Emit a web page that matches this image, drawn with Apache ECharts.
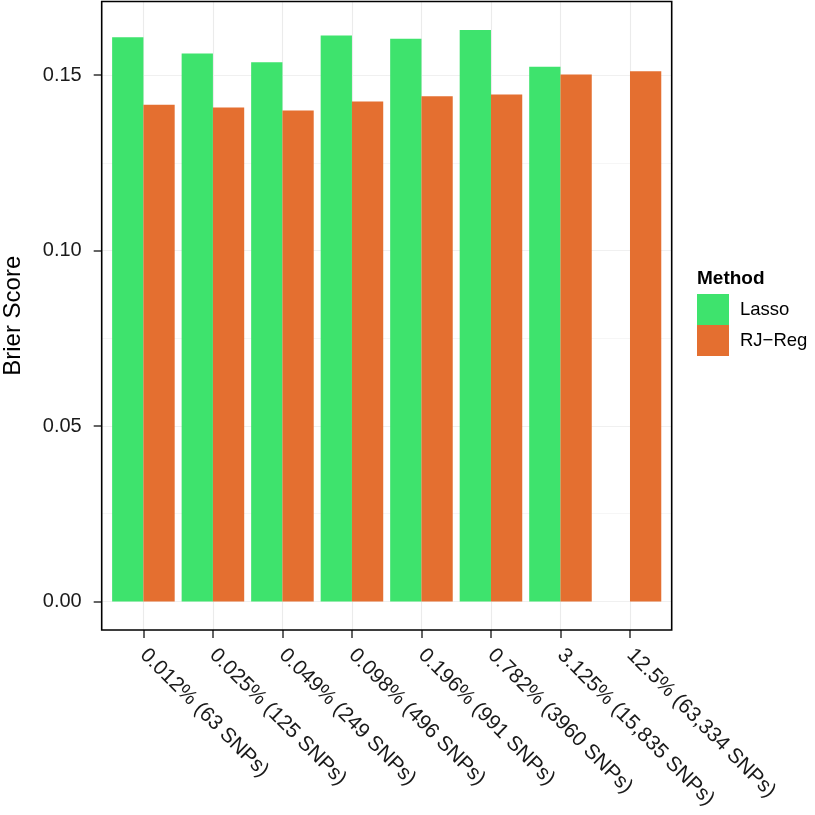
<!DOCTYPE html>
<html>
<head>
<meta charset="utf-8">
<script src="https://cdn.jsdelivr.net/npm/echarts@6/dist/echarts.min.js"></script>
<style>
html,body{margin:0;padding:0;background:#fff;}
#chart{width:815px;height:815px;}
</style>
</head>
<body>
<div id="chart"></div>
<script>
// ---- data ----
const categories = ["0.012% (63 SNPs)", "0.025% (125 SNPs)", "0.049% (249 SNPs)", "0.098% (496 SNPs)", "0.196% (991 SNPs)", "0.782% (3960 SNPs)", "3.125% (15,835 SNPs)", "12.5% (63,334 SNPs)"];
const lasso = [0.1608, 0.1562, 0.1537, 0.1613, 0.1604, 0.1629, 0.1524, null];
const rjreg = [0.1416, 0.1408, 0.1399, 0.1425, 0.1440, 0.1445, 0.1502, 0.1511];
const seriesNames = ["Lasso", "RJ\u2212Reg"];
const yTicks = [0, 0.05, 0.10, 0.15];
const yMin = -0.00814, yMax = 0.1710;

const FONT = "'Liberation Sans', Arial, Helvetica, sans-serif";
const catIdx = categories.map((c, i) => i + 1);

const chart = echarts.init(document.getElementById('chart'), null, {renderer: 'canvas'});
chart.setOption({
  animation: false,
  backgroundColor: '#ffffff',
  textStyle: {fontFamily: FONT},
  title: {
    text: 'Method', left: 697, top: 269, padding: 0,
    textStyle: {fontFamily: FONT, fontWeight: 'bold', fontSize: 19, color: '#000'}
  },
  legend: {
    orient: 'vertical', left: 697, top: 294, padding: 0,
    itemWidth: 32, itemHeight: 31, itemGap: 0, icon: 'rect',
    data: seriesNames,
    textStyle: {fontFamily: FONT, fontSize: 18.5, color: '#000', padding: [0, 0, 0, 6]}
  },
  grid: {
    left: 101.7, right: 143.3, top: 1.5, bottom: 185,
    containLabel: false, outerBoundsMode: 'none',
    show: true, z: 10, borderColor: '#000', borderWidth: 1.6, backgroundColor: 'transparent'
  },
  xAxis: {
    type: 'value', min: 0.4, max: 8.6, minInterval: 1, maxInterval: 1, splitNumber: 8,
    axisLine: {show: false, onZero: false},
    axisTick: {show: true, length: 8, customValues: catIdx, lineStyle: {color: '#333', width: 1.5}},
    axisLabel: {
      customValues: catIdx, rotate: -45, margin: 22, fontSize: 20.8, color: '#1a1a1a', fontFamily: FONT,
      formatter: v => (Number.isInteger(v) && v >= 1 && v <= categories.length) ? categories[v - 1] : ''
    },
    splitLine: {show: true, lineStyle: {color: '#ebebeb', width: 1.1}}
  },
  yAxis: [{
    type: 'value', min: yMin, max: yMax, minInterval: 0.05, maxInterval: 0.05, splitNumber: 4,
    name: 'Brier Score', nameLocation: 'middle', nameGap: 76,
    nameTextStyle: {fontFamily: FONT, fontSize: 24, color: '#000'},
    axisLine: {show: false, onZero: false},
    axisTick: {show: true, length: 8, customValues: yTicks, lineStyle: {color: '#333', width: 1.5}},
    axisLabel: {
      customValues: yTicks, margin: 20, fontSize: 20, color: '#1a1a1a', fontFamily: FONT,
      formatter: v => v.toFixed(2)
    },
    splitLine: {show: true, lineStyle: {color: '#ebebeb', width: 1.1}}
  }, {
    type: 'value', min: yMin, max: yMax, minInterval: 0.025, maxInterval: 0.025, splitNumber: 7,
    position: 'left',
    axisLine: {show: false}, axisTick: {show: false}, axisLabel: {show: false},
    splitLine: {show: true, lineStyle: {color: '#f2f2f2', width: 0.7}}
  }],
  series: [
    {
      name: seriesNames[0], type: 'bar', z: 2,
      barGap: '0%', barCategoryGap: '10%',
      itemStyle: {color: '#3ee36d'},
      data: lasso.map((v, i) => [catIdx[i], v])
    },
    {
      name: seriesNames[1], type: 'bar', z: 2,
      barGap: '0%', barCategoryGap: '10%',
      itemStyle: {color: '#e46f30'},
      data: rjreg.map((v, i) => [catIdx[i], v])
    }
  ]
});
</script>
</body>
</html>
